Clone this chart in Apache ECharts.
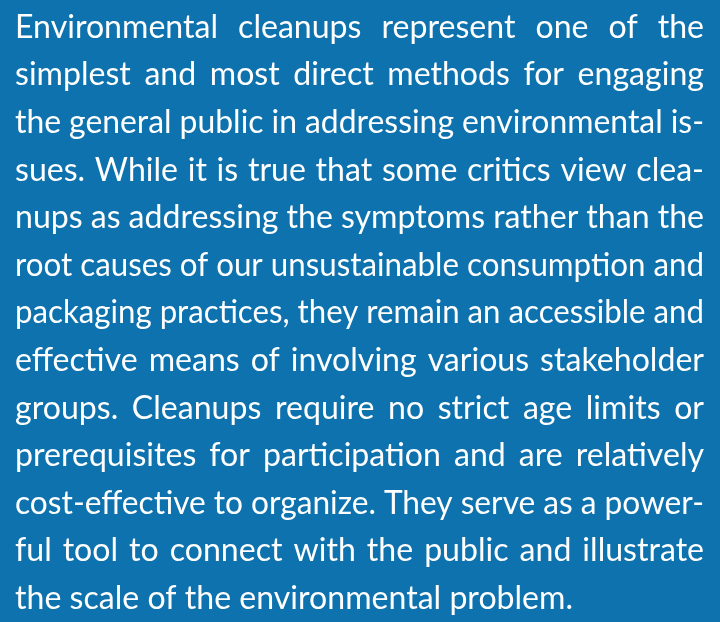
<!DOCTYPE html>
<html>
<head>
<meta charset="utf-8">
<script src="https://cdn.jsdelivr.net/npm/echarts@6/dist/echarts.min.js"></script>
<style>html,body{margin:0;padding:0;background:#0d72ad}#c{width:720px;height:622px}</style>
</head>
<body>
<div id="c"></div>
<script>
var lines = [
  "Environmental cleanups represent one of the",
  "simplest and most direct methods for engaging",
  "the general public in addressing environmental is-",
  "sues. While it is true that some critics view clea-",
  "nups as addressing the symptoms rather than the",
  "root causes of our unsustainable consumption and",
  "packaging practices, they remain an accessible and",
  "effective means of involving various stakeholder",
  "groups. Cleanups require no strict age limits or",
  "prerequisites for participation and are relatively",
  "cost-effective to organize. They serve as a power-",
  "ful tool to connect with the public and illustrate",
  "the scale of the environmental problem."
];
var justified = [true,true,true,true,true,true,true,true,true,true,true,true,false];

var FONT_FAMILY = "Lato";
var FONT_SIZE = 33;
var LEFT = 15, RIGHT = 704, FIRST_BASE = 37, LINE_STEP = 47.6;
var LAST_LINE_RIGHT = 573;
var MIN_GAP = 8;
var font = FONT_SIZE + "px " + FONT_FAMILY;

var cv = document.createElement("canvas").getContext("2d");
cv.font = font;
function w(s){ return cv.measureText(s).width; }

// horizontal condensing so the unjustified last line matches its width
var lastWords = lines[lines.length-1].split(" ");
var natSpace = w(" ");
var lastNat = lastWords.map(w).reduce(function(a,b){return a+b;},0) + natSpace*(lastWords.length-1);
var baseScale = (LAST_LINE_RIGHT - LEFT)/lastNat;

var elements = [];
lines.forEach(function(line, i){
  var words = line.split(" ");
  var widths = words.map(w);
  var total = widths.reduce(function(a,b){return a+b;},0);
  var s = baseScale;
  var gap;
  if (justified[i] && words.length > 1) {
    var avail = RIGHT - LEFT;
    if (total*s + MIN_GAP*(words.length-1) > avail) {
      s = (avail - MIN_GAP*(words.length-1))/total;
    }
    gap = (avail - total*s)/(words.length-1);
  } else {
    gap = natSpace*s;
  }
  var x = LEFT;
  var base = FIRST_BASE + i*LINE_STEP;
  words.forEach(function(word, j){
    elements.push({
      type: "text",
      silent: true,
      x: x,
      y: base - 0.30*FONT_SIZE,
      scaleX: s,
      style: {
        text: word,
        x: 0,
        y: 0,
        font: font,
        fill: "#ffffff",
        textAlign: "left",
        textVerticalAlign: "middle"
      }
    });
    x += widths[j]*s + gap;
  });
});

var chart = echarts.init(document.getElementById("c"), null, {renderer: "canvas"});
chart.setOption({
  backgroundColor: "#0d72ad",
  animation: false,
  graphic: { elements: elements }
});
</script>
</body>
</html>
